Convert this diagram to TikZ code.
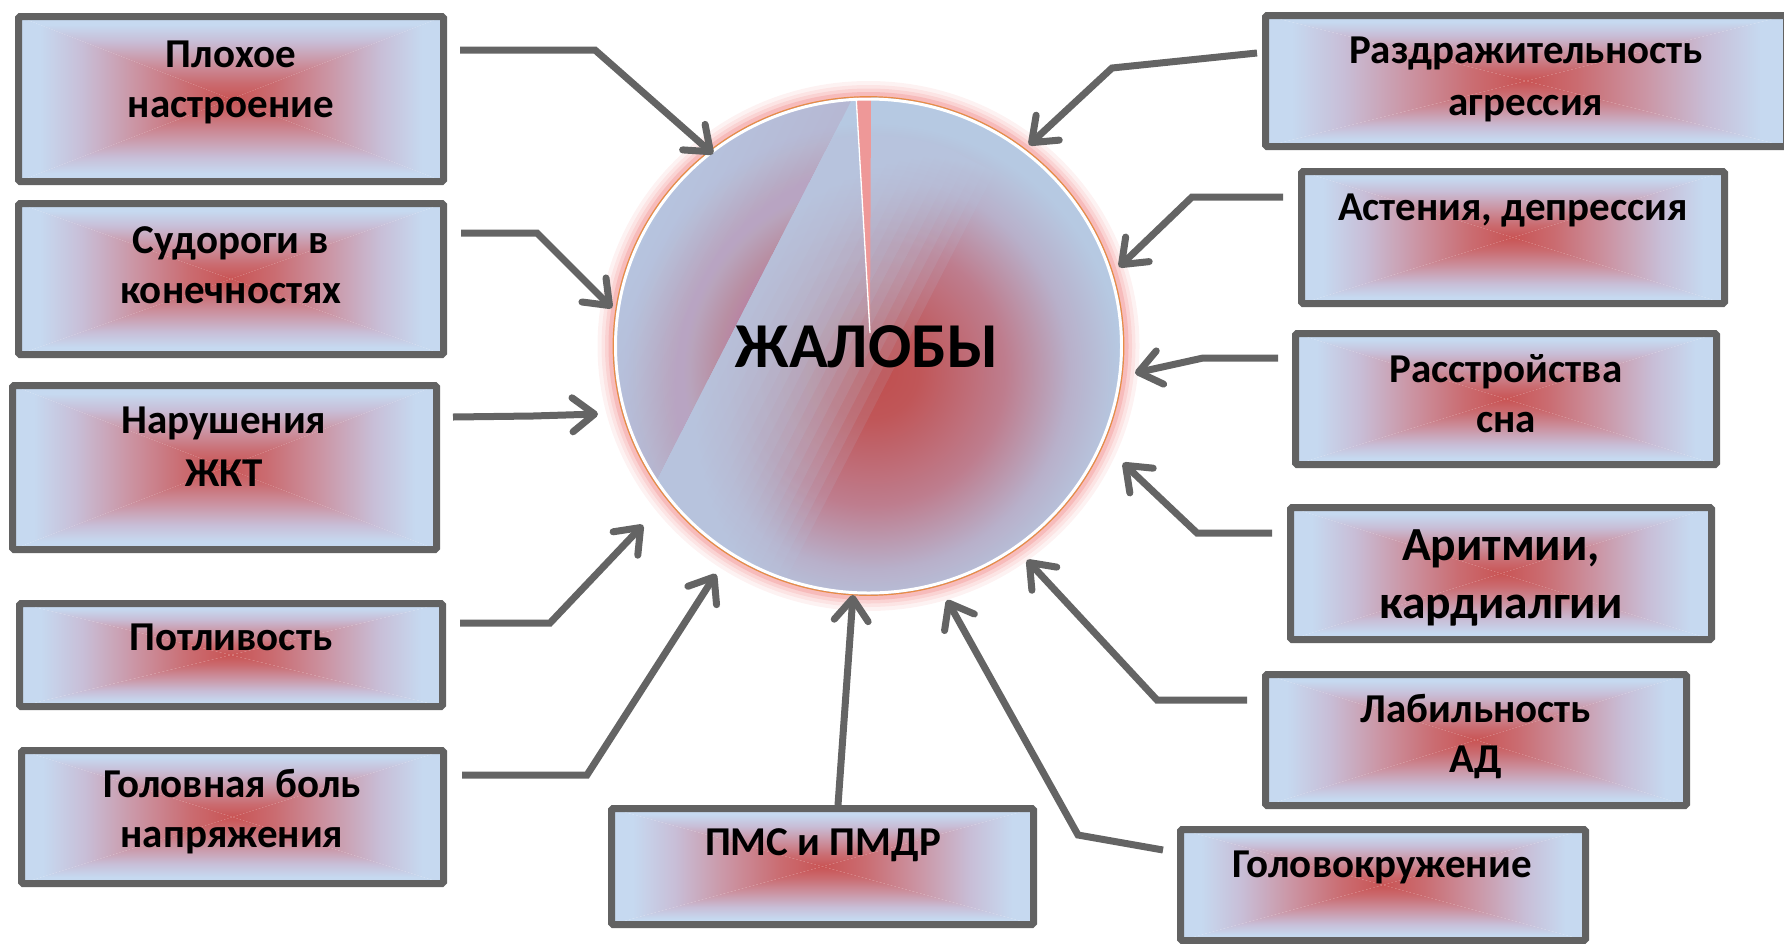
\documentclass[tikz,border=0pt]{standalone}
\usepackage{fontspec}
\setmainfont{Carlito}
\usetikzlibrary{arrows.meta,shapes.geometric,calc}

\definecolor{gred}{RGB}{201,84,84}
\definecolor{gr1}{RGB}{202,108,113}
\definecolor{gmid}{RGB}{203,148,163}
\definecolor{gpale}{RGB}{200,190,215}
\definecolor{gblue}{RGB}{198,217,240}
\definecolor{bgray}{RGB}{98,98,98}
\definecolor{agray}{RGB}{100,100,100}
\definecolor{cr0}{RGB}{192,78,78}
\definecolor{cr1}{RGB}{192,86,88}
\definecolor{cr2}{RGB}{190,125,142}
\definecolor{cr3}{RGB}{184,176,202}
\definecolor{cblue}{RGB}{182,201,226}
\definecolor{bandblue}{RGB}{183,203,229}
\definecolor{mauve}{RGB}{184,164,194}
\definecolor{glowred}{RGB}{238,112,112}
\definecolor{orangeline}{RGB}{232,140,70}
\definecolor{slicepink}{RGB}{238,152,152}

\pgfdeclareverticalshading{gtop}{100bp}{color(0bp)=(gred); color(25bp)=(gred); color(35bp)=(gr1); color(47.5bp)=(gmid); color(60bp)=(gpale); color(70bp)=(gblue); color(100bp)=(gblue)}
\pgfdeclareverticalshading{gbot}{100bp}{color(0bp)=(gblue); color(30bp)=(gblue); color(40bp)=(gpale); color(52.5bp)=(gmid); color(65bp)=(gr1); color(75bp)=(gred); color(100bp)=(gred)}
\pgfdeclarehorizontalshading{gleft}{100bp}{color(0bp)=(gblue); color(30bp)=(gblue); color(40bp)=(gpale); color(52.5bp)=(gmid); color(65bp)=(gr1); color(75bp)=(gred); color(100bp)=(gred)}
\pgfdeclarehorizontalshading{gright}{100bp}{color(0bp)=(gred); color(25bp)=(gred); color(35bp)=(gr1); color(47.5bp)=(gmid); color(60bp)=(gpale); color(70bp)=(gblue); color(100bp)=(gblue)}
\pgfdeclareradialshading{cshade}{\pgfpointorigin}{color(0bp)=(cr0); color(4bp)=(cr1); color(11.5bp)=(cr2); color(17bp)=(cr3); color(21.5bp)=(cblue); color(50bp)=(cblue)}

\tikzset{
  gbox/.style={draw=bgray, line width=7pt, inner sep=0pt, rectangle, rounded corners=1.5pt,
    path picture={
      \coordinate (NW) at (path picture bounding box.north west);
      \coordinate (NE) at (path picture bounding box.north east);
      \coordinate (SW) at (path picture bounding box.south west);
      \coordinate (SE) at (path picture bounding box.south east);
      \coordinate (CC) at (path picture bounding box.center);
      \shade[sharp corners, shading=gtop] (NW) -- (NE) -- (CC) -- cycle;
      \shade[sharp corners, shading=gbot] (SW) -- (SE) -- (CC) -- cycle;
      \shade[sharp corners, shading=gleft] (NW) -- (SW) -- (CC) -- cycle;
      \shade[sharp corners, shading=gright] (NE) -- (SE) -- (CC) -- cycle;
    }},
  txt/.style={anchor=base, inner sep=0pt, font=\bfseries\fontsize{41}{45}\selectfont},
  bigtxt/.style={anchor=base, inner sep=0pt, font=\bfseries\fontsize{47.5}{52}\selectfont},
  arr/.style={draw=agray, line width=7pt, line join=miter, -{Straight Barb[length=22pt,width=34pt,round]}}
}

\begin{document}
\begin{tikzpicture}[x=1pt,y=-1pt]
\useasboundingbox (0,0) rectangle (1784,943);

% ---- central circle ----
\coordinate (cc) at (868.5,346);
\foreach \w/\o in {30/0.09, 22/0.11, 15/0.15, 8/0.24}
  \draw[glowred, opacity=\o, line width=\w pt] (cc) ellipse [x radius=256, y radius=250];
\begin{scope}
  \clip (cc) ellipse [x radius=255, y radius=249];
  \shade[shading=cshade] (872,372) circle [radius=290];
  \foreach \k in {1,...,14}
    \fill[mauve, opacity=0.03] (852,99) -- (640,513) -- ({640-8.9*\k},{513-4.56*\k}) -- ({852-8.9*\k},{99-4.56*\k}) -- cycle;
  \foreach \k in {1,...,16}
    \fill[bandblue, opacity=0.12] (852,99) -- (640,513) -- ({640+8.9*\k},{513+4.56*\k}) -- ({852+8.9*\k},{99+4.56*\k}) -- cycle;
  \fill[slicepink] (870,333) -- (856,95) -- (871,95) -- cycle;
  \draw[white, line width=1.3pt] (870,333) -- (856,95);
\end{scope}
\draw[white, line width=3pt] (cc) ellipse [x radius=253, y radius=247];
\draw[orangeline, line width=1.2pt] (cc) ellipse [x radius=255.3, y radius=249.3];
\node[ellipse, minimum width=510pt, minimum height=498pt, inner sep=0pt] (circ) at (cc) {};
\node[anchor=base, inner sep=0pt, font=\bfseries\fontsize{64}{70}\selectfont] (title) at (867,367) {ЖАЛОБЫ};

% ---- boxes ----
\node[gbox, minimum width=425pt, minimum height=165pt] (b1) at (231,99) {};
\node[gbox, minimum width=425pt, minimum height=151pt] (b2) at (231,279) {};
\node[gbox, minimum width=424pt, minimum height=164pt] (b3) at (224.5,467.5) {};
\node[gbox, minimum width=423pt, minimum height=103pt] (b4) at (231,655) {};
\node[gbox, minimum width=422pt, minimum height=133pt] (b5) at (232.5,817) {};
\node[gbox, minimum width=422pt, minimum height=116pt] (b6) at (822.5,866.5) {};
\node[gbox, minimum width=405pt, minimum height=111pt] (b7) at (1383,885) {};
\node[gbox, minimum width=421pt, minimum height=131pt] (b8) at (1476,740) {};
\node[gbox, minimum width=421pt, minimum height=132pt] (b9) at (1501,573.5) {};
\node[gbox, minimum width=421pt, minimum height=131pt] (b10) at (1506,399) {};
\node[gbox, minimum width=423pt, minimum height=132pt] (b11) at (1513,237.5) {};
\node[gbox, minimum width=521pt, minimum height=131pt] (b12) at (1526,81) {};

% ---- texts ----
\node[txt] (t1a) at (231,67) {Плохое};
\node[txt] (t1b) at (231,117) {настроение};
\node[txt] (t2a) at (231,253) {Судороги в};
\node[txt] (t2b) at (231,303) {конечностях};
\node[txt] (t3a) at (224,433) {Нарушения};
\node[txt] (t3b) at (224,486) {ЖКТ};
\node[txt] (t4a) at (231,650) {Потливость};
\node[txt] (t5a) at (232,797) {Головная боль};
\node[txt] (t5b) at (232,847) {напряжения};
\node[txt] (t6a) at (823,855) {ПМС и ПМДР};
\node[txt] (t7a) at (1382,877) {Головокружение};
\node[txt] (t8a) at (1476,722) {Лабильность};
\node[txt] (t8b) at (1476,772) {АД};
\node[bigtxt] (t9a) at (1501,560) {Аритмии,};
\node[bigtxt] (t9b) at (1501,618) {кардиалгии};
\node[txt] (t10a) at (1506,382) {Расстройства};
\node[txt] (t10b) at (1506,432) {сна};
\node[txt] (t11a) at (1513,220) {Астения, депрессия};
\node[txt] (t12a) at (1526,63) {Раздражительность};
\node[txt] (t12b) at (1526,115) {агрессия};

% ---- connector points ----
\coordinate (s1) at (460,50);   \coordinate (m1) at (595,50);   \coordinate (e1) at (713,154);
\coordinate (s2) at (461,233);  \coordinate (m2) at (537,233);  \coordinate (e2) at (612,308);
\coordinate (s3) at (453,417);  \coordinate (m3) at (533,416);  \coordinate (e3) at (598,414);
\coordinate (s4) at (460,623);  \coordinate (m4) at (550,623);  \coordinate (e4) at (643,525);
\coordinate (s5) at (462,775);  \coordinate (m5) at (587,775);  \coordinate (e5) at (716,574);
\coordinate (s6) at (838,805);  \coordinate (e6) at (853,595);
\coordinate (s7) at (1163,850); \coordinate (m7) at (1078,835); \coordinate (e7) at (947,600);
\coordinate (s8) at (1247,700); \coordinate (m8) at (1157,700); \coordinate (e8) at (1027,560);
\coordinate (s9) at (1272,533); \coordinate (m9) at (1197,533); \coordinate (e9) at (1123,463);
\coordinate (s10) at (1278,358); \coordinate (m10) at (1203,358); \coordinate (e10) at (1135,373);
\coordinate (s11) at (1283,197); \coordinate (m11) at (1192,197); \coordinate (e11) at (1119,267);
\coordinate (s12) at (1257,53);  \coordinate (m12) at (1112,68);  \coordinate (e12) at (1029,145);

\draw[arr] (s1) -- (m1) -- (e1);
\draw[arr] (s2) -- (m2) -- (e2);
\draw[arr] (s3) -- (m3) -- (e3);
\draw[arr] (s4) -- (m4) -- (e4);
\draw[arr] (s5) -- (m5) -- (e5);
\draw[arr] (s6) -- (e6);
\draw[arr] (s7) -- (m7) -- (e7);
\draw[arr] (s8) -- (m8) -- (e8);
\draw[arr] (s9) -- (m9) -- (e9);
\draw[arr] (s10) -- (m10) -- (e10);
\draw[arr] (s11) -- (m11) -- (e11);
\draw[arr] (s12) -- (m12) -- (e12);
\end{tikzpicture}
\end{document}
